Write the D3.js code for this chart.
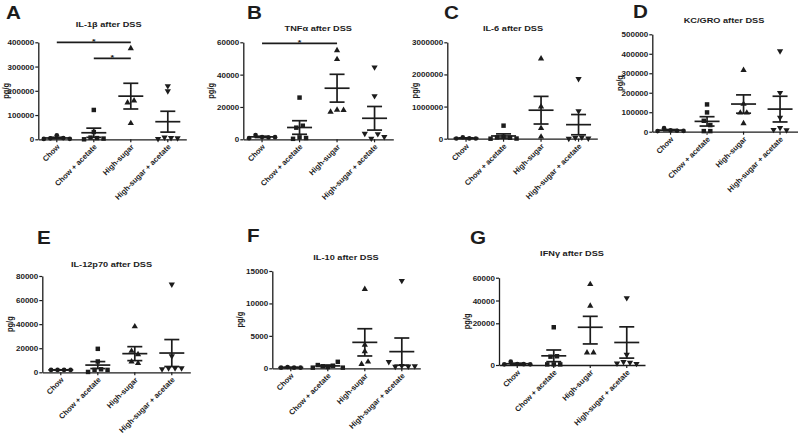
<!DOCTYPE html>
<html><head><meta charset="utf-8">
<script src="https://cdn.jsdelivr.net/npm/d3@7"></script>
<style>
body{margin:0;background:#fff}
text{font-family:"Liberation Sans",Arial,sans-serif;font-weight:bold;fill:#1c1c1c}
</style>
</head><body>
<svg id="chart" width="798" height="434"></svg>
<script>
// ---------------- data ----------------
const groups = ["Chow", "Chow + acetate", "High-sugar", "High-sugar + acetate"];
const letters = ["A", "B", "C", "D", "E", "F", "G"];
const titles = ["IL-1\u03b2 after DSS", "TNF\u03b1 after DSS", "IL-6 after DSS", "KC/GRO after DSS",
                "IL-12p70 after DSS", "IL-10 after DSS", "IFN\u03b3 after DSS"];
const yLabel = "pg/g";

const il1bPoints = [[1500, 4000, 16500, 5000, 2000], [0, 7000, 121000, 30000, 5000, 3000],
                    [375000, 151000, 159000, 66000], [220000, 199000, 2000, 8000, 6000, 5000]];
const il1bMean = [5500, 27000, 178000, 72600];
const il1bSem = [2800, 19000, 53000, 43000];
const il1bTicks = [0, 100000, 200000, 300000, 400000];
const il1bSig = [[0, 2, 400000], [1, 2, 334000]];

const tnfaPoints = [[700, 2600, 1400, 1100, 1300], [300, 7200, 25800, 1200, 8400, 800],
                    [55000, 49500, 17000, 18200, 18000], [44600, 26800, 3500, 500, 3300, 1500]];
const tnfaMean = [1500, 7300, 31600, 13000];
const tnfaSem = [400, 4200, 8600, 7300];
const tnfaTicks = [0, 20000, 40000, 60000];
const tnfaSig = [[0, 2, 59300]];

const il6Points = [[5000, 45000, 8000, 5000], [0, 40000, 406000, 60000, 30000, 5000],
                   [2490000, 1000000, 330000, 60000], [1860000, 860000, 5000, 30000, 40000, 10000]];
const il6Mean = [16000, 85000, 887000, 437000];
const il6Sem = [9000, 65000, 430000, 315000];
const il6Ticks = [0, 1000000, 2000000, 3000000];

const kcPoints = [[3000, 18000, 7000, 5000, 4000], [3000, 140000, 99000, 56000, 34000, 3000],
                  [316000, 142000, 97000, 97000, 43000], [414000, 200000, 73000, 10000, 20000, 8000]];
const kcMean = [8000, 53000, 142000, 116000];
const kcSem = [3000, 24000, 47000, 66000];
const kcTicks = [0, 100000, 200000, 300000, 400000, 500000];

const il12Points = [[2000, 2000, 2000, 2000], [300, 9000, 19500, 2000, 2500, 2000],
                    [38000, 17700, 14900, 8800, 7500], [73000, 13500, 2700, 3500, 3500, 3500]];
const il12Mean = [2000, 6000, 15500, 16000];
const il12Sem = [100, 2900, 5800, 11200];
const il12Ticks = [0, 20000, 40000, 60000, 80000];

const il10Points = [[100, 200, 100, 100], [100, 500, 300, 200, 400, 1000, 100],
                    [12200, 3600, 2600, 650, 1000], [13500, 1000, 250, 400, 300, 350]];
const il10Mean = [120, 370, 4000, 2570];
const il10Sem = [30, 130, 2100, 2100];
const il10Ticks = [0, 5000, 10000, 15000];

const ifngPoints = [[300, 1600, 500, 400, 300], [300, 4000, 18100, 300, 4200, 300],
                    [54200, 35200, 5900, 5900], [42200, 5000, 800, 1500, 1200, 600]];
const ifngMean = [600, 4400, 18100, 10800];
const ifngSem = [250, 2800, 8000, 7500];
const ifngTicks = [0, 20000, 40000, 60000];

// ---------------- layout (positions only) ----------------
const panels = [
  {pts: il1bPoints, mean: il1bMean, sem: il1bSem, ticks: il1bTicks, sig: il1bSig,
   x0: 38.3, yTop: 42.3, yZero: 139.3, w: 148, tx: 108.7, ty: 27.3, lx: 6, ly: 18.5},
  {pts: tnfaPoints, mean: tnfaMean, sem: tnfaSem, ticks: tnfaTicks, sig: tnfaSig,
   x0: 243.3, yTop: 42.3, yZero: 139.3, w: 150, tx: 318.3, ty: 30.7, lx: 247, ly: 18.5},
  {pts: il6Points, mean: il6Mean, sem: il6Sem, ticks: il6Ticks, sig: [],
   x0: 447.3, yTop: 42.3, yZero: 138.7, w: 150, tx: 513, ty: 30.7, lx: 444, ly: 19.2},
  {pts: kcPoints, mean: kcMean, sem: kcSem, ticks: kcTicks, sig: [],
   x0: 652.3, yTop: 34.3, yZero: 131.7, w: 146, tx: 724, ty: 23.3, lx: 633, ly: 17.5},
  {pts: il12Points, mean: il12Mean, sem: il12Sem, ticks: il12Ticks, sig: [],
   x0: 42.3, yTop: 276, yZero: 372.3, w: 148, tx: 111.5, ty: 266.7, lx: 37, ly: 244.2},
  {pts: il10Points, mean: il10Mean, sem: il10Sem, ticks: il10Ticks, sig: [],
   x0: 272.3, yTop: 271, yZero: 368.3, w: 148, tx: 346, ty: 260, lx: 247, ly: 241.9},
  // this panel's axis in the original is two-segment (0-20000 taller than 20000-60000)
  {pts: ifngPoints, mean: ifngMean, sem: ifngSem, ticks: ifngTicks, sig: [], knot: [20000, 323.3],
   x0: 499, yTop: 277.7, yZero: 365, w: 146, tx: 572, ty: 255.7, lx: 470, ly: 243.5}
];

const INK = "#1c1c1c";
const SX = 1.15; // horizontal stretch of the original figure's lettering
const svg = d3.select("#chart");
const symbols = [d3.symbolCircle, d3.symbolSquare, d3.symbolTriangle, d3.symbolTriangle];
const symSize = [17, 20, 17, 17];
const symRot = [0, 0, 0, 180];

function spreadOffsets(vals, y, W, H) {
  const order = vals.map((v, i) => i).sort((a, b) => (y(vals[a]) - y(vals[b])) || (a - b));
  const offs = new Array(vals.length).fill(0);
  let cluster = [];
  const flush = () => {
    const c = cluster.slice().sort((a, b) => a - b);
    const step = c.length > 1 ? Math.min(W, 30 / (c.length - 1)) : 0;
    c.forEach((idx, k) => { offs[idx] = (k - (c.length - 1) / 2) * step; });
    cluster = [];
  };
  order.forEach((idx, k) => {
    if (k > 0 && y(vals[idx]) - y(vals[order[k - 1]]) > H) flush();
    cluster.push(idx);
  });
  flush();
  return offs;
}

panels.forEach((p, pi) => {
  const g = svg.append("g");
  const ymax = p.ticks[p.ticks.length - 1];
  const y = p.knot
    ? d3.scaleLinear().domain([0, p.knot[0], ymax]).range([p.yZero, p.knot[1], p.yTop])
    : d3.scaleLinear().domain([0, ymax]).range([p.yZero, p.yTop]);
  const x = d3.scaleBand().domain(groups).range([p.x0, p.x0 + p.w]);
  const cx = d => x(d) + x.bandwidth() / 2;

  // panel letter
  g.append("text").attr("transform", `translate(${p.lx},${p.ly}) scale(1.18,1)`)
    .style("font-size", "17.5px").text(letters[pi]);
  // title
  g.append("text").attr("transform", `translate(${p.tx},${p.ty}) scale(${SX},1)`)
    .attr("text-anchor", "middle").style("font-size", "8px").text(titles[pi]);
  // y label
  g.append("text")
    .attr("transform", `translate(${p.x0 - 29},${(p.yTop + p.yZero) / 2}) scale(${SX},1) rotate(-90)`)
    .attr("text-anchor", "middle").style("font-size", "7.5px").text(yLabel);

  // y axis
  const ya = g.append("g").attr("transform", `translate(${p.x0},0)`)
    .call(d3.axisLeft(y).tickValues(p.ticks).tickSize(3).tickSizeOuter(0).tickPadding(1)
      .tickFormat(d3.format("d")));
  ya.select(".domain").attr("stroke", INK).attr("stroke-width", 1.3);
  ya.selectAll(".tick line").attr("stroke", INK).attr("stroke-width", 1.2);
  ya.selectAll(".tick text").attr("x", 0).attr("dy", 0)
    .attr("transform", `translate(-4,2.5) scale(${SX},1)`)
    .style("font-size", "7px").style("font-family", null).attr("fill", INK);

  // x axis
  const xa = g.append("g").attr("transform", `translate(0,${p.yZero})`)
    .call(d3.axisBottom(x).tickSize(3).tickSizeOuter(0));
  xa.select(".domain").attr("stroke", INK).attr("stroke-width", 1.3);
  xa.selectAll(".tick line").attr("stroke", INK).attr("stroke-width", 1.2);
  xa.selectAll(".tick text").attr("x", 0).attr("y", 0).attr("dy", 0)
    .attr("transform", "translate(3.5,8) rotate(-45)")
    .attr("text-anchor", "end").style("font-size", "7.6px").attr("fill", INK);
  g.selectAll(".domain").attr("fill", "none");

  // points
  groups.forEach((gr, gi) => {
    const vals = p.pts[gi];
    const offs = spreadOffsets(vals, y, 6.5, 4.6);
    g.append("g").selectAll("path").data(vals).join("path")
      .attr("d", d3.symbol().type(symbols[gi]).size(symSize[gi]))
      .attr("transform", (d, i) => `translate(${cx(gr) + offs[i]},${y(d)}) rotate(${symRot[gi]})`)
      .attr("fill", INK);

    // mean +/- SEM
    const m = p.mean[gi], s = p.sem[gi], c = cx(gr);
    const lg = g.append("g").attr("stroke", INK).attr("stroke-width", 1.7).attr("fill", "none");
    lg.append("line").attr("x1", c - 12.5).attr("x2", c + 12.5).attr("y1", y(m)).attr("y2", y(m));
    lg.append("line").attr("x1", c).attr("x2", c).attr("y1", y(m + s)).attr("y2", y(Math.max(0, m - s)));
    lg.append("line").attr("x1", c - 7.5).attr("x2", c + 7.5).attr("y1", y(m + s)).attr("y2", y(m + s));
    lg.append("line").attr("x1", c - 7.5).attr("x2", c + 7.5)
      .attr("y1", y(Math.max(0, m - s))).attr("y2", y(Math.max(0, m - s)));
  });

  // significance bars
  p.sig.forEach(([a, b, v]) => {
    const xa1 = cx(groups[a]), xb1 = cx(groups[b]);
    g.append("line").attr("x1", xa1).attr("x2", xb1).attr("y1", y(v)).attr("y2", y(v))
      .attr("stroke", INK).attr("stroke-width", 1.7);
    g.append("text").attr("transform", `translate(${(xa1 + xb1) / 2},${y(v) + 1.5}) scale(${SX},1)`)
      .attr("text-anchor", "middle").style("font-size", "8px").text("*");
  });
});
</script>
</body></html>
